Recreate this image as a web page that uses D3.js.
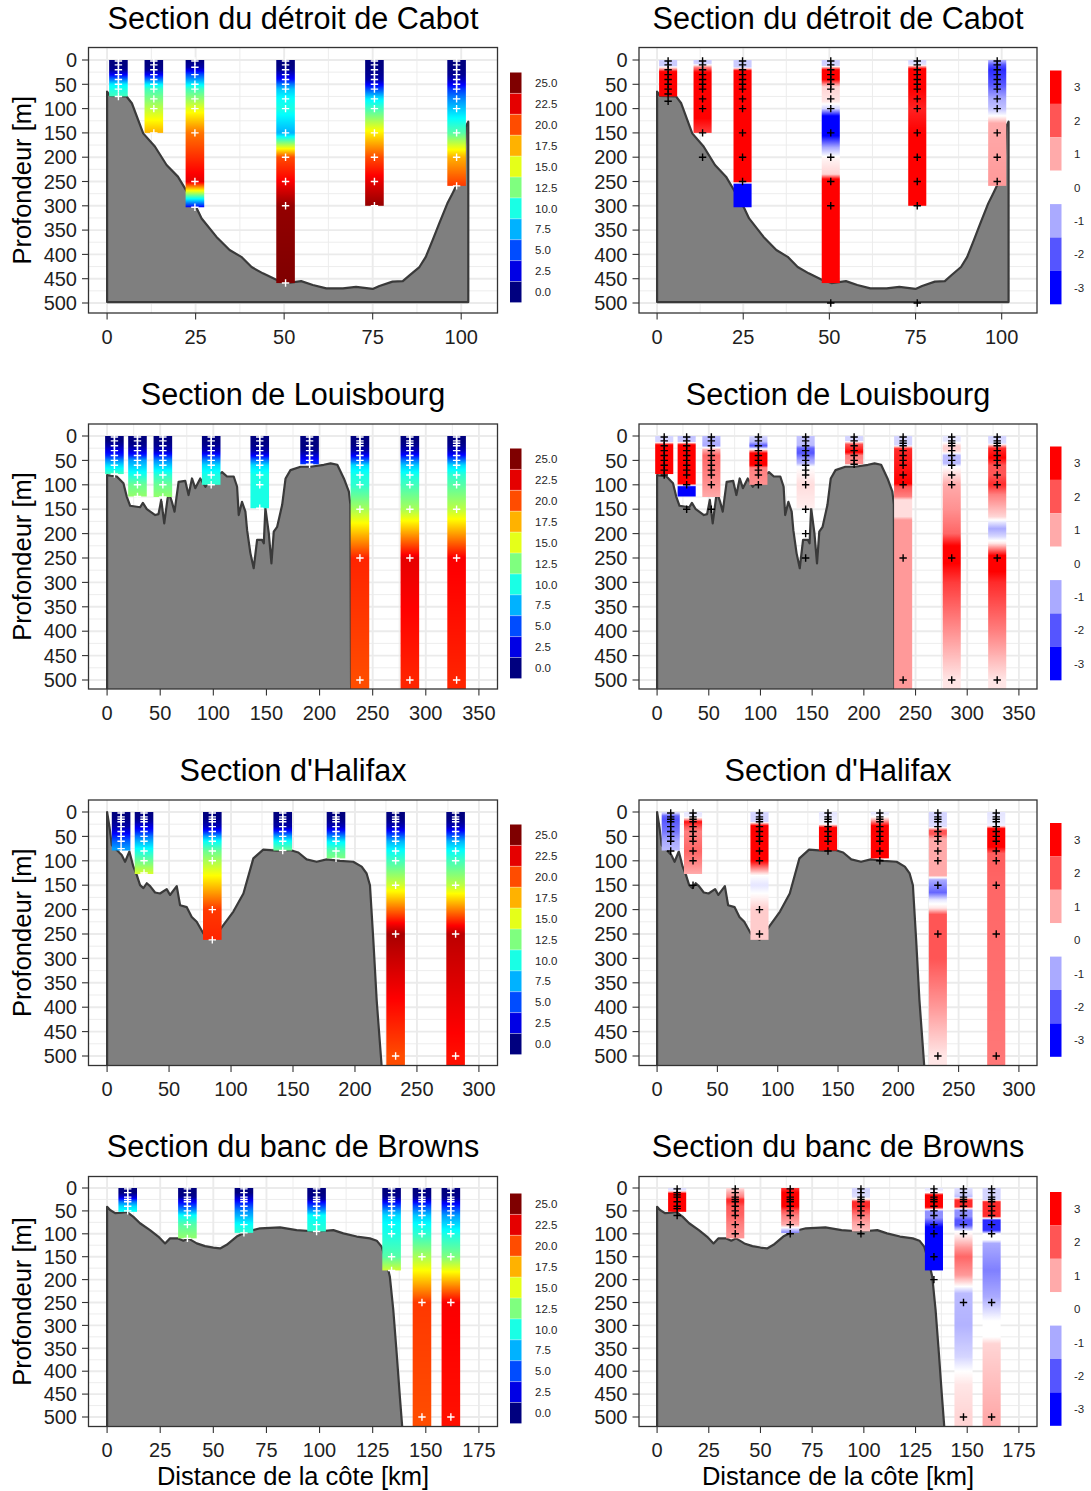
<!DOCTYPE html>
<html><head><meta charset="utf-8">
<script src="https://cdn.jsdelivr.net/npm/d3@7/dist/d3.min.js"></script>
<style>
html,body{margin:0;padding:0;background:#fff;}
svg{display:block;}
text{font-family:"Liberation Sans",Arial,Helvetica,sans-serif;}
</style></head><body>
<svg id="chart" width="1091" height="1491"></svg>
<script>
// ---------------- DATA ----------------
const sectionTitles = ["Section du détroit de Cabot","Section de Louisbourg","Section d'Halifax","Section du banc de Browns"];
const sectionXmax = [105, 350, 300, 175];
const sectionXTicks = [[0,25,50,75,100],[0,50,100,150,200,250,300,350],[0,50,100,150,200,250,300],[0,25,50,75,100,125,150,175]];
const depthTicks = [0,50,100,150,200,250,300,350,400,450,500];
const nitrateLegend = [25,22.5,20,17.5,15,12.5,10,7.5,5,2.5,0];
const anomalyLegend = [3,2,1,0,-1,-2,-3];

// Cabot
const cabotBathyKm = [0,0.85,5.5,7,10.2,13.5,16.8,20,23.4,25.3,26.7,30.9,34.6,37.9,40.8,44,47.8,50.6,54.8,58.1,61.9,66.6,70.3,75,76.9,80.6,83.5,85.4,88.2,90,91.9,93.8,96.1,97.5,99.4,100.8,101.3,102];
const cabotBathyDepth = [65,74,75,89,151,178,216,240,281,305,326,364,391,405,426,439,452,459,455,463,470,470,467,471,465,456,455,443,426,405,371,336,295,275,247,220,137,127];
const cabotX = [3.2,13.2,24.8,50.4,75.5,98.7];
const cabotBottom = [75,150,303,459,300,259];
const cabotNitrateDepth = [
 [2,10,20,30,40,50,60,75],
 [2,10,20,30,40,50,60,80,100,150],
 [2,15,30,50,60,80,100,150,250,303],
 [2,10,20,30,40,50,60,80,100,150,200,250,300,459],
 [2,10,20,30,40,50,60,80,100,150,200,250,300],
 [2,10,20,30,40,50,60,80,100,150,200,259]];
const cabotNitrate = [
 [0,0,0.5,3,6,9,10,11],
 [0,0,0.5,3,6,9,11,12.5,14,17.5],
 [0,1,5,9,11,13,15,19,22.5,3],
 [0,0,0.5,2,3.5,6,8,9.5,10,7.5,20,22,24.5,25],
 [0,0,0.2,0.5,1,3,5,9,11,16,20,22.5,24.5],
 [0,0,0.2,0.5,1.5,3,4.5,6.5,8,11.5,17.5,20.5]];
const cabotAnomDepth = [
 [2,12,18,24,75],
 [2,8,15,25,120,150],
 [2,15,22,250,256,303],
 [2,12,20,40,55,85,100,115,150,180,200,235,245,459],
 [2,10,18,60,100,150,300],
 [2,10,20,50,80,100,115,130,259]];
const cabotAnom = [
 [-0.6,-0.6,1,3,3],
 [-0.6,-0.5,1.5,3,3,2.3],
 [-0.6,-0.6,3,3,-3,-3.5],
 [-0.6,-0.5,3,3,0.5,0.3,-0.5,-3,-3.5,-1,0.1,0.5,3,3.5],
 [-0.5,-0.3,3,3,2.6,3,3],
 [-1,-2,-2.5,-2,-1,-0.7,0,1,1.2]];
const cabotAnomCross = [
 [2,10,20,30,40,50,60,70,85],
 [2,10,20,30,40,50,60,80,100,150,200],
 [2,10,20,30,40,50,60,80,100,150,200,250],
 [2,10,20,30,40,50,60,80,100,150,200,250,300,500],
 [2,10,20,30,40,50,60,80,100,150,200,250,300,500],
 [2,10,20,30,40,50,60,80,100,150,200,250]];

// Louisbourg
const louisBathyKm = [0,9.1,15.4,18.5,21.7,31.1,33.7,37.4,45.3,48.4,51,53.8,57.8,61,63.5,67.3,73.6,76.7,79.9,83,87.7,92.5,97.2,108.2,112.9,119.2,122.4,123.9,127,130.2,131.8,134.9,138,141.2,145.9,147.5,149,152.2,154.7,156.9,160.1,164.8,168,172.6,182.1,191.5,204,210.4,216.7,222.9,227.6,229,230];
const louisBathyDepth = [80,83,97,124,143,146,137,150,162,160,131,179,114,135,155,94,92,121,87,107,87,104,90,74,83,83,104,162,135,155,193,240,271,213,213,220,148,199,261,196,186,141,87,70,63,63,59,56,59,87,114,140,700];
const louisX = [6.9,28.6,52.5,98,143.7,190.6,238,285,329];
const louisBottom = [78,124,125,100,148,58,600,600,600];
const louisNitrateDepth = [
 [2,10,20,30,40,50,60,78],
 [2,10,20,30,40,50,60,80,100,124],
 [2,10,20,30,40,50,60,80,100,125],
 [2,10,20,30,40,50,60,80,100],
 [2,10,20,30,40,50,60,80,100,148],
 [2,10,20,30,40,50,58],
 [2,10,15,20,30,40,50,60,80,100,150,250,500],
 [2,10,15,20,30,40,50,60,80,100,150,250,500],
 [2,10,15,20,30,40,50,60,80,100,150,250,500]];
const louisNitrate = [
 [0,0,1,2.5,4,6.5,8.5,11],
 [0,0,0.5,2,4,7,8,10,12,13],
 [0,0,0.5,1.5,4,6.5,8,10.5,12,13],
 [0,0,0.5,1.5,4,6.5,8.5,10,10.5],
 [0,0,0.3,1,3,6,8.5,10,10,10],
 [0,0,0,0.5,2,3.5,4.5],
 [0,0,0,0.3,1,3,5.5,8.5,10,10.5,13.5,21,20],
 [0,0,0.2,0.5,1.5,3.5,6,8,10,11,13.5,22.5,21],
 [0,0,0.2,0.5,1.5,3.5,6,8.5,10.5,11.5,14,22,21]];
const louisAnomDepth = [
 [2,12,18,78],
 [2,12,18,98,104,124],
 [2,20,28,40,100,125],
 [2,12,20,27,35,60,65,100],
 [2,19,25,35,45,56,63,100,148],
 [2,10,17,33,40,58],
 [2,19,26,98,104,124,131,165,172,500],
 [2,10,20,26,33,40,56,63,100,150,200,225,250,300,400,500],
 [2,15,25,45,60,80,100,120,165,175,190,205,220,245,265,300,400,500]];
const louisAnom = [
 [-0.5,-0.5,3,3],
 [-0.7,-0.6,3,3,-3,-3.5],
 [-0.8,-1,1,1.8,1.3,1],
 [-0.5,-0.8,-2,0,3,3,1.5,1.3],
 [-0.7,-0.8,-1.8,-2,-1.3,-0.8,0,0.4,0.2],
 [-0.5,-0.5,2,3,1.5,1.3],
 [-0.5,-0.5,2.5,3,2,1.5,0.4,0.4,1.2,1.2],
 [-0.3,-0.3,0.5,0.6,0.3,-0.8,-0.8,0,1,1.3,1.8,3,3.2,2.3,1.3,0.3],
 [-0.5,-0.4,2.5,3,2,2,2.5,1.5,0.5,-0.2,-1,-0.5,0.3,3,3.3,2.5,1.5,0.3]];
const louisAnomCross = [
 [2,10,20,30,40,50,60,70,80],
 [2,10,20,30,40,50,60,70,80,100,150],
 [2,10,20,30,40,50,60,70,80,100,150],
 [2,10,20,30,40,50,60,70,80,100],
 [2,10,20,30,40,50,60,70,80,100,150,200,250],
 [2,10,20,30,40,50,58],
 [2,10,15,20,30,40,50,60,80,100,250,500],
 [2,10,15,20,30,40,50,60,80,100,250,500],
 [2,10,15,20,30,40,50,60,80,100,250,500]];

// Halifax
const halifaxBathyKm = [0,1.9,3.8,7.8,11.8,14.5,18,21.2,23.9,26.6,29.3,32,34.7,38.7,42.7,48.1,50.8,56.2,58.9,64.3,68.3,72.3,77.7,80.4,85,90,93.8,101.9,110,118,126,136.9,147.6,154.3,161,169.1,177.2,187.9,198.6,205.4,209.4,212.1,214.8,217.5,221.5,223];
const halifaxBathyDepth = [0,30,68,78,88,102,81,112,129,150,156,146,152,165,167,158,170,152,191,195,215,225,249,256,262,245,232,204,167,95,77,79,78,83,97,102,97,100,102,112,126,150,262,385,520,600];
const halifaxX = [11.3,29.8,84.9,141.7,184.7,232.8,281.2];
const halifaxBottom = [79,127,262,79,95,600,600];
const halifaxNitrateDepth = [
 [2,10,15,20,30,40,50,60,75],
 [2,10,15,20,30,40,50,60,80,100,125],
 [2,10,15,20,30,40,50,60,80,100,200,262],
 [2,10,15,20,30,40,50,60,79],
 [2,10,15,20,30,40,50,60,80,95],
 [2,10,15,20,30,40,50,60,80,100,150,250,500],
 [2,10,15,20,30,40,50,60,80,100,150,250,500]];
const halifaxNitrate = [
 [0,0,0.2,0.5,1,2.5,4,5.5,7],
 [0,0.2,0.5,1,2.5,4,6,7.5,10,12,14.5],
 [0,0,0.3,0.6,1.5,4,7,9.5,12,13.5,20.5,21],
 [0,0,0.2,0.5,1,4,7,9.5,12],
 [0,0,0.2,0.5,1.5,4,6.5,9,11.5,12.5],
 [0,0,0.2,0.5,1.5,3.5,5.5,7.5,9.5,11,14.5,24,20],
 [0,0,0.2,0.5,1.5,3.5,5.5,7.5,9.5,11,14,23.5,21.5]];
const halifaxAnomDepth = [
 [2,8,15,40,60,79],
 [2,10,15,20,30,40,80,100,127],
 [2,20,28,100,115,130,150,200,262],
 [2,25,32,79],
 [2,10,18,28,95],
 [2,30,38,45,55,130,139,165,180,197,210,300,400,500],
 [2,28,34,72,85,150,500]];
const halifaxAnom = [
 [-0.5,-1.8,-2,-1.6,-1,-0.8],
 [-0.3,-0.2,1,2.8,2,1.5,1.8,1.5,1],
 [-0.5,-0.5,3,3,1.5,0,-0.3,0.6,0.6],
 [-0.3,-0.1,3,3],
 [-0.3,0,1.2,3,3],
 [-0.5,-0.4,2,2,1,1,-1,-1.8,-0.3,0.3,2,2,1.2,0.3],
 [-0.3,-0.2,3,3,1.9,1.8,1.6]];
const halifaxAnomCross = [
 [2,10,15,20,30,40,50,60,80],
 [2,10,15,20,30,40,50,60,80,100,150],
 [2,10,15,20,30,40,50,60,80,100,200,250],
 [2,10,15,20,30,40,50,60,80],
 [2,10,15,20,30,40,50,60,80,100],
 [2,10,15,20,30,40,50,60,80,100,150,250,500],
 [2,10,15,20,30,40,50,60,80,100,150,250,500]];

// Browns
const brownsBathyKm = [0,1.4,3.8,6.9,9.3,12.4,15.5,20.2,24.1,27.3,29.6,33.5,35.9,38.2,42.2,46.1,50,53.2,56.3,61,65.7,72,81.4,89.2,98.6,106.5,111.2,117.5,123.7,126.9,129.2,131.6,133.1,134.7,136.3,137.8,138.9,139.5];
const brownsBathyDepth = [41,48,55,54,52,63,77,92,106,121,110,110,115,110,121,127,130,132,124,106,95,88,86,92,95,92,99,106,110,115,128,164,194,266,361,456,521,600];
const brownsX = [9.7,37.8,64.4,98.6,133.9,148.2,161.8];
const brownsBottom = [52,110,98,95,180,600,600];
const brownsNitrateDepth = [
 [2,10,20,25,30,40,50],
 [2,10,20,25,30,40,50,60,80,110],
 [2,10,20,25,30,40,50,60,80,98],
 [2,10,20,25,30,40,50,60,80,95],
 [2,10,20,25,30,40,50,60,80,100,150,180],
 [2,10,20,25,30,40,50,60,80,100,150,250,500],
 [2,10,20,25,30,40,50,60,80,100,150,250,500]];
const brownsNitrate = [
 [0,0,2,4,6,8.5,9.5],
 [0,0,0.5,2,3,5,7,9.5,11.5,13],
 [0,0,1.5,2.5,3.5,5,6.5,7.5,9.5,10.5],
 [0,0,0.5,1,3,5,7,9.5,10,10.5],
 [0,0,0.5,1.5,3,5,7,8.5,9.5,10,11.5,14.5],
 [0,0,0.5,1.5,3,5,6.5,8,9.5,10.5,13.5,20.5,20],
 [0,0,0.3,1,2.5,4,5.5,7,8.5,10,12.5,22,21.5]];
const brownsAnomDepth = [
 [2,6,12,52],
 [2,10,20,25,30,40,60,80,110],
 [2,10,40,50,60,80,90,98],
 [2,20,25,30,40,50,60,80,95],
 [2,10,15,42,50,65,85,180],
 [2,11,20,26,41,48,62,70,81,95,106,130,150,190,215,230,300,368,400,430,500],
 [2,26,30,62,70,92,100,113,121,180,237,290,325,340,500]];
const brownsAnom = [
 [-0.4,-0.2,3,3],
 [0.5,1,1.5,2.5,2.5,2,1.8,1.5,1.2],
 [2.5,3,3,2,1.5,1,-0.5,-1.5],
 [-0.5,-0.4,0.5,2.5,2.5,2,1.5,1,0.7],
 [-0.3,0,3,3,-1.3,-1.3,-3,-3.5],
 [-0.4,-0.5,-0.8,2.5,2.5,-1.3,-1.3,-2,-2,0,0.3,1.2,1.8,1.2,0,-0.8,-0.9,-0.5,0,0.3,0.5],
 [-0.5,-0.5,2.5,2.5,-2.5,-2.5,0,0,-1,-1.5,-1,0,0,0.5,1]];
const brownsAnomCross = [
 [2,10,15,20,30,40,45,60],
 [2,10,20,25,30,40,50,60,80,100],
 [2,10,20,25,30,40,50,60,80,100],
 [2,10,20,25,30,40,50,60,80,100],
 [2,10,20,25,30,40,50,60,80,100,150,200],
 [2,10,20,25,30,40,50,60,80,100,250,500],
 [2,10,20,25,30,40,50,60,80,100,250,500]];

// --------------- BUILD ---------------
const sections = [
 {bk:cabotBathyKm, bd:cabotBathyDepth, base:498, sx:cabotX, bot:cabotBottom, nd:cabotNitrateDepth, nv:cabotNitrate, ad:cabotAnomDepth, av:cabotAnom, ac:cabotAnomCross},
 {bk:louisBathyKm, bd:louisBathyDepth, base:700, sx:louisX, bot:louisBottom, nd:louisNitrateDepth, nv:louisNitrate, ad:louisAnomDepth, av:louisAnom, ac:louisAnomCross},
 {bk:halifaxBathyKm, bd:halifaxBathyDepth, base:700, sx:halifaxX, bot:halifaxBottom, nd:halifaxNitrateDepth, nv:halifaxNitrate, ad:halifaxAnomDepth, av:halifaxAnom, ac:halifaxAnomCross},
 {bk:brownsBathyKm, bd:brownsBathyDepth, base:700, sx:brownsX, bot:brownsBottom, nd:brownsNitrateDepth, nv:brownsNitrate, ad:brownsAnomDepth, av:brownsAnom, ac:brownsAnomCross}
];
sections.forEach((s,i)=>{ s.title=sectionTitles[i]; s.xmax=sectionXmax[i]; s.ticks=sectionXTicks[i]; });

const rows = [
 {top:47.5, bottom:313, y0:60, y500:303, title:18},
 {top:424, bottom:689, y0:436, y500:680, title:394},
 {top:800, bottom:1065.5, y0:812, y500:1056, title:770},
 {top:1176.5, bottom:1426.5, y0:1188, y500:1417, title:1146}
];
const cols = [{x0:88.5, x1:497.5}, {x0:639, x1:1037}];
const legLeftTop = [72.5, 448.5, 824.5, 1193.5];
const legRightTop = [70.5, 446.5, 823, 1192];

const jet = d3.scaleLinear()
  .domain(d3.range(9).map(i => i*25/8))
  .range(["#00007F","#0000FF","#007FFF","#00FFFF","#7FFF7F","#FFFF00","#FF7F00","#FF0000","#7F0000"])
  .clamp(true);
const anom = d3.scaleLinear().domain([-3,0,3]).range(["#0000FF","#FFFFFF","#FF0000"]).clamp(true);

function interp(ds, vs, d){
  if (d <= ds[0]) return vs[0];
  for (let i=1;i<ds.length;i++){
    if (d <= ds[i]) { const t=(d-ds[i-1])/(ds[i]-ds[i-1]); return vs[i-1]+t*(vs[i]-vs[i-1]); }
  }
  return vs[vs.length-1];
}

const svg = d3.select("#chart");
const defs = svg.append("defs");
let gid = 0;
function gradFill(ds, vs, bottom, y, cs){
  const id = "grad"+(gid++);
  const g = defs.append("linearGradient").attr("id",id).attr("gradientUnits","userSpaceOnUse")
    .attr("x1",0).attr("x2",0).attr("y1",y(0)).attr("y2",y(bottom));
  const n = Math.ceil(bottom);
  for (let i=0;i<=n;i++){
    const d = bottom*i/n;
    g.append("stop").attr("offset",(i/n).toFixed(4)).attr("stop-color",cs(interp(ds,vs,d)));
  }
  return `url(#${id})`;
}

const GRID = "#EBEBEB", DARK = "#333333", TXT = "#1f1f1f";

sections.forEach((s, r) => {
  const R = rows[r];
  const y = d3.scaleLinear().domain([0,500]).range([R.y0, R.y500]);
  const yd = [y.invert(R.top), y.invert(R.bottom)];
  [0,1].forEach(c => {
    const C = cols[c];
    const x = d3.scaleLinear().domain([-0.05*s.xmax, 1.05*s.xmax]).range([C.x0, C.x1]);
    const xd = x.domain();
    const g = svg.append("g");
    const clipId = `clip${r}_${c}`;
    defs.append("clipPath").attr("id",clipId).append("rect")
      .attr("x",C.x0).attr("y",R.top).attr("width",C.x1-C.x0).attr("height",R.bottom-R.top);
    g.append("rect").attr("x",C.x0).attr("y",R.top).attr("width",C.x1-C.x0).attr("height",R.bottom-R.top).attr("fill","#fff");
    const inner = g.append("g").attr("clip-path",`url(#${clipId})`);
    // grid
    const step = s.ticks[1]-s.ticks[0];
    for (let v = -step/2; v <= xd[1]; v += step) if (v >= xd[0])
      inner.append("line").attr("x1",x(v)).attr("x2",x(v)).attr("y1",R.top).attr("y2",R.bottom).attr("stroke",GRID).attr("stroke-width",0.9);
    for (let v = -25; v <= yd[1]; v += 50) if (v >= yd[0])
      inner.append("line").attr("x1",C.x0).attr("x2",C.x1).attr("y1",y(v)).attr("y2",y(v)).attr("stroke",GRID).attr("stroke-width",0.9);
    s.ticks.forEach(v => inner.append("line").attr("x1",x(v)).attr("x2",x(v)).attr("y1",R.top).attr("y2",R.bottom).attr("stroke",GRID).attr("stroke-width",1.9));
    depthTicks.forEach(v => inner.append("line").attr("x1",C.x0).attr("x2",C.x1).attr("y1",y(v)).attr("y2",y(v)).attr("stroke",GRID).attr("stroke-width",1.9));
    // bathymetry
    const pts = [[s.bk[0], s.base]].concat(s.bk.map((k,i)=>[k, s.bd[i]])).concat([[s.bk[s.bk.length-1], s.base]]);
    inner.append("path").attr("d", d3.line().x(p=>x(p[0])).y(p=>y(p[1]))(pts)+"Z")
      .attr("fill","#7F7F7F").attr("stroke","#3a3a3a").attr("stroke-width",2.2).attr("stroke-linejoin","round");
    // columns
    const w = 0.05*s.xmax;
    s.sx.forEach((k,i) => {
      const ds = c===0 ? s.nd[i] : s.ad[i];
      const vs = c===0 ? s.nv[i] : s.av[i];
      const fill = gradFill(ds, vs, s.bot[i], y, c===0 ? jet : anom);
      inner.append("rect").attr("x",x(k-w/2)).attr("width",x(k+w/2)-x(k-w/2))
        .attr("y",y(0)).attr("height",y(s.bot[i])-y(0)).attr("fill",fill);
    });
    // crosses
    const crossColor = c===0 ? "#ffffff" : "#000000";
    s.sx.forEach((k,i) => {
      const cr = c===0 ? s.nd[i] : s.ac[i];
      cr.forEach(d => {
        inner.append("path").attr("d",`M${x(k)-3.7},${y(d)}H${x(k)+3.7}M${x(k)},${y(d)-3.7}V${y(d)+3.7}`)
          .attr("stroke",crossColor).attr("stroke-width",1.4).attr("fill","none");
      });
    });
    // border
    g.append("rect").attr("x",C.x0).attr("y",R.top).attr("width",C.x1-C.x0).attr("height",R.bottom-R.top)
      .attr("fill","none").attr("stroke",DARK).attr("stroke-width",1.3);
    // y axis
    depthTicks.forEach(v => {
      g.append("line").attr("x1",C.x0-6.5).attr("x2",C.x0).attr("y1",y(v)).attr("y2",y(v)).attr("stroke",DARK).attr("stroke-width",1.1);
      g.append("text").attr("x",C.x0-11.5).attr("y",y(v)+7.2).attr("text-anchor","end")
        .attr("font-size",20).attr("fill",TXT).text(v);
    });
    // x axis
    s.ticks.forEach(v => {
      g.append("line").attr("x1",x(v)).attr("x2",x(v)).attr("y1",R.bottom).attr("y2",R.bottom+6.5).attr("stroke",DARK).attr("stroke-width",1.1);
      g.append("text").attr("x",x(v)).attr("y",R.bottom+30.5).attr("text-anchor","middle")
        .attr("font-size",20).attr("fill",TXT).text(v);
    });
    // title
    g.append("text").attr("x",(C.x0+C.x1)/2).attr("y",R.title+10.8).attr("text-anchor","middle")
      .attr("font-size",30.6).attr("fill","#000").text(s.title);
    if (c===0) {
      g.append("text").attr("transform",`translate(31,${(R.top+R.bottom)/2}) rotate(-90)`)
        .attr("text-anchor","middle").attr("font-size",25.5).attr("fill","#000").text("Profondeur [m]");
    }
    if (r===3) {
      g.append("text").attr("x",(C.x0+C.x1)/2).attr("y",1485).attr("text-anchor","middle")
        .attr("font-size",25.5).attr("fill","#000").text("Distance de la côte [km]");
    }
  });
  // legends
  const lg = svg.append("g");
  const bh = 20.9;
  nitrateLegend.forEach((v,i) => {
    const yy = legLeftTop[r] + i*bh;
    lg.append("rect").attr("x",510).attr("y",yy).attr("width",11.5).attr("height",bh).attr("fill",jet(v));
    if (i>0) lg.append("line").attr("x1",510).attr("x2",521.5).attr("y1",yy).attr("y2",yy).attr("stroke","#fff").attr("stroke-opacity",0.45).attr("stroke-width",0.8);
    lg.append("text").attr("x",535).attr("y",yy+bh/2+4.2).attr("font-size",11.5).attr("fill",TXT).text(d3.format(".1f")(v));
  });
  const bh2 = 33.4;
  anomalyLegend.forEach((v,i) => {
    const yy = legRightTop[r] + i*bh2;
    lg.append("rect").attr("x",1050).attr("y",yy).attr("width",11.5).attr("height",bh2).attr("fill",anom(v));
    lg.append("text").attr("x",1074).attr("y",yy+bh2/2+4.2).attr("font-size",11.5).attr("fill",TXT).text(v);
  });
});
</script></body></html>
